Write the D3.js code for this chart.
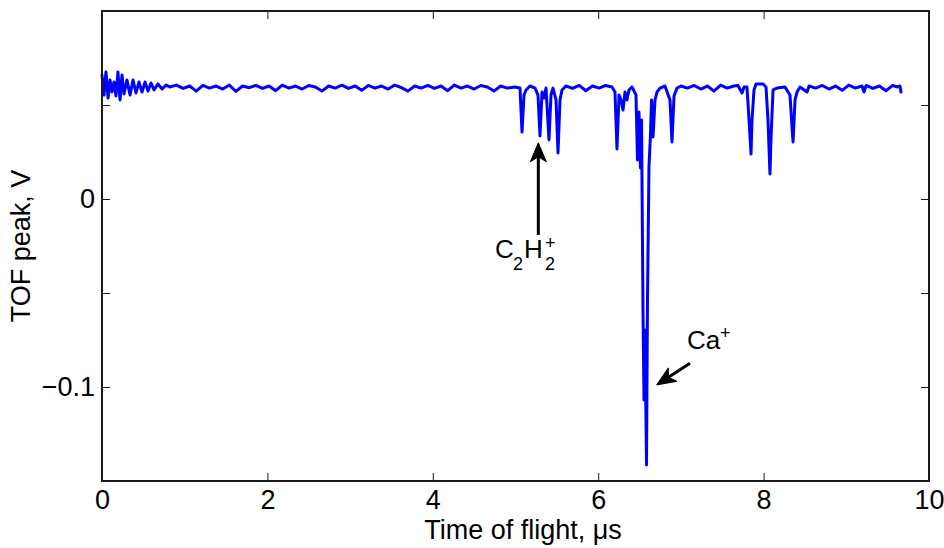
<!DOCTYPE html>
<html>
<head>
<meta charset="utf-8">
<script src="https://cdn.jsdelivr.net/npm/d3@7"></script>
<style>
  html, body { margin: 0; padding: 0; background: #fff; }
  svg { display: block; font-family: "Liberation Sans", Arial, Helvetica, sans-serif; }
</style>
</head>
<body>
<svg id="chart" width="944" height="548"></svg>
<script>
// Time-of-flight trace: time (µs) and detector signal (V)
const tofTime = [
  // ringing at the start
  0.000, 0.024, 0.048, 0.073, 0.097, 0.121, 0.145, 0.169, 0.193, 0.218,
  0.242, 0.266, 0.302, 0.339, 0.375, 0.411, 0.447, 0.484, 0.520, 0.556,
  0.593, 0.629, 0.677, 0.726, 0.774,
  // quiet baseline
  0.82, 0.90, 0.98, 1.06, 1.14, 1.22, 1.30, 1.38, 1.46, 1.54,
  1.62, 1.70, 1.78, 1.86, 1.94, 2.02, 2.10, 2.18, 2.26, 2.34,
  2.42, 2.50, 2.58, 2.66, 2.74, 2.82, 2.90, 2.98, 3.06, 3.14,
  3.22, 3.30, 3.38, 3.46, 3.54, 3.62, 3.70, 3.78, 3.86, 3.94,
  4.02, 4.10, 4.18, 4.26, 4.34, 4.42, 4.50, 4.58, 4.66, 4.74,
  4.82, 4.90, 4.99,
  // first group of peaks
  5.054, 5.079, 5.103, 5.127, 5.175, 5.236, 5.272, 5.296, 5.321, 5.345,
  5.369, 5.405, 5.429, 5.453, 5.490, 5.514, 5.538, 5.562,
  5.61, 5.69, 5.77, 5.85, 5.93, 6.01, 6.09,
  // Ca region
  6.167, 6.203, 6.227, 6.252, 6.276, 6.300, 6.324, 6.348, 6.372, 6.409,
  6.457, 6.475, 6.493, 6.511, 6.524, 6.542, 6.554, 6.566, 6.584, 6.596,
  6.614, 6.632, 6.645, 6.663, 6.687, 6.711, 6.747, 6.808, 6.868, 6.892,
  6.917, 6.953, 7.001,
  7.08, 7.16, 7.24, 7.32, 7.40, 7.48, 7.56, 7.64, 7.69,
  // late peaks
  7.739, 7.763, 7.799, 7.824, 7.848, 7.860, 7.884, 7.908, 7.993, 8.029,
  8.053, 8.077, 8.089, 8.114, 8.162, 8.259, 8.319, 8.356, 8.380, 8.404,
  8.440,
  8.525, 8.55, 8.63, 8.71, 8.79, 8.87, 8.95, 9.03, 9.11, 9.19,
  9.214, 9.24, 9.32, 9.40, 9.48, 9.56, 9.62, 9.649, 9.661
];
const tofSignal = [
  0.0660, 0.0553, 0.0676, 0.0537, 0.0633, 0.0569, 0.0622, 0.0548, 0.0676, 0.0527,
  0.0660, 0.0559, 0.0633, 0.0553, 0.0633, 0.0564, 0.0622, 0.0569, 0.0622, 0.0574,
  0.0617, 0.0580, 0.0612, 0.0585, 0.0606,
  0.0596, 0.0606, 0.0588, 0.0601, 0.0574, 0.0604, 0.0590, 0.0601, 0.0585, 0.0606,
  0.0572, 0.0601, 0.0592, 0.0604, 0.0588, 0.0601, 0.0576, 0.0606, 0.0590, 0.0601,
  0.0585, 0.0604, 0.0596, 0.0574, 0.0601, 0.0590, 0.0606, 0.0588, 0.0601, 0.0578,
  0.0604, 0.0590, 0.0601, 0.0585, 0.0606, 0.0592, 0.0574, 0.0601, 0.0590, 0.0604,
  0.0588, 0.0601, 0.0576, 0.0606, 0.0590, 0.0601, 0.0585, 0.0604, 0.0596, 0.0574,
  0.0601, 0.0590, 0.0596,
  0.0590, 0.0356, 0.0553, 0.0580, 0.0601, 0.0590, 0.0553, 0.0335, 0.0569, 0.0537,
  0.0590, 0.0314, 0.0553, 0.0590, 0.0527, 0.0245, 0.0527, 0.0580,
  0.0601, 0.0588, 0.0604, 0.0576, 0.0601, 0.0590, 0.0604,
  0.0596, 0.0569, 0.0266, 0.0553, 0.0527, 0.0473, 0.0569, 0.0527, 0.0580, 0.0596,
  0.0553, 0.0207, 0.0463, 0.0165, 0.0420, -0.0606, -0.1069, -0.0697, -0.1415, -0.0537,
  0.0170, 0.0340, 0.0527, 0.0330, 0.0527, 0.0569, 0.0590, 0.0601, 0.0527, 0.0303,
  0.0548, 0.0590, 0.0601,
  0.0590, 0.0604, 0.0585, 0.0601, 0.0574, 0.0606, 0.0590, 0.0601, 0.0604,
  0.0564, 0.0596, 0.0596, 0.0420, 0.0239, 0.0420, 0.0580, 0.0612, 0.0612, 0.0596,
  0.0420, 0.0133, 0.0314, 0.0580, 0.0590, 0.0596, 0.0553, 0.0303, 0.0527, 0.0569,
  0.0596,
  0.0569, 0.0601, 0.0590, 0.0604, 0.0585, 0.0601, 0.0578, 0.0606, 0.0590, 0.0601,
  0.0569, 0.0604, 0.0588, 0.0601, 0.0576, 0.0604, 0.0596, 0.0601, 0.0569
];

// Axis setup
const xDomain = [0, 10];
const yDomain = [-0.15, 0.1];
const xTicks = [0, 2, 4, 6, 8, 10];
const yTicks = [-0.15, -0.1, -0.05, 0, 0.05, 0.1];
const yTickLabels = { "0": "0", "-0.1": "\u22120.1" };

// Peak annotations: arrow tail/tip and label anchor, in data units
const peakNotes = [
  { name: "C2H2", tail: [5.276, -0.0191], tip: [5.276, 0.0299], label: [4.752, -0.0314] },
  { name: "Ca",   tail: [7.110, -0.0874], tip: [6.707, -0.0989], label: [7.074, -0.0798] }
];

const svg = d3.select("#chart");
const margin = { left: 102, right: 15, top: 11, bottom: 67 };
const W = 944, H = 548;
const x = d3.scaleLinear().domain(xDomain).range([margin.left, W - margin.right]);
const y = d3.scaleLinear().domain(yDomain).range([H - margin.bottom, margin.top]);

const fontSize = 27;
const noteSize = 26;
const tickLen = 8;

// Trace
const points = tofTime.map((t, i) => [t, tofSignal[i]]);
const line = d3.line().x(d => x(d[0])).y(d => y(d[1]));
svg.append("path")
  .datum(points)
  .attr("d", line)
  .attr("fill", "none")
  .attr("stroke", "#0000ff")
  .attr("stroke-width", 3)
  .attr("stroke-linejoin", "round")
  .attr("stroke-linecap", "round");

// Axes: inward ticks on all four sides
const axisColor = "#1a1a1a";
const bottomAxis = d3.axisBottom(x).tickValues(xTicks).tickSizeInner(-tickLen).tickSizeOuter(0).tickPadding(9).tickFormat(d3.format("d"));
const topAxis = d3.axisTop(x).tickValues(xTicks).tickSizeInner(-tickLen).tickSizeOuter(0).tickFormat("");
const leftAxis = d3.axisLeft(y).tickValues(yTicks).tickSizeInner(-tickLen).tickSizeOuter(0).tickPadding(7)
  .tickFormat(d => yTickLabels[String(Math.round(d * 100) / 100)] || "");
const rightAxis = d3.axisRight(y).tickValues(yTicks).tickSizeInner(-tickLen).tickSizeOuter(0).tickFormat("");

function styleAxis(g) {
  g.select(".domain").remove();
  g.selectAll(".tick line").attr("stroke", axisColor).attr("stroke-width", 1);
  g.selectAll(".tick text").attr("fill", "#000").style("font-size", fontSize + "px")
    .style("font-family", '"Liberation Sans", Arial, Helvetica, sans-serif');
}

svg.append("g").attr("transform", `translate(0,${y.range()[0]})`).call(bottomAxis).call(styleAxis);
svg.append("g").attr("transform", `translate(0,${y.range()[1]})`).call(topAxis).call(styleAxis);
svg.append("g").attr("transform", `translate(${x.range()[0]},0)`).call(leftAxis).call(styleAxis);
svg.append("g").attr("transform", `translate(${x.range()[1]},0)`).call(rightAxis).call(styleAxis);

// Frame
svg.append("rect")
  .attr("x", x.range()[0]).attr("y", y.range()[1])
  .attr("width", x.range()[1] - x.range()[0])
  .attr("height", y.range()[0] - y.range()[1])
  .attr("fill", "none").attr("stroke", axisColor).attr("stroke-width", 2);

// Axis titles
svg.append("text")
  .attr("x", 523)
  .attr("y", 539)
  .attr("text-anchor", "middle")
  .style("font-size", fontSize + "px")
  .text("Time of flight, \u03bcs");

svg.append("text")
  .attr("transform", `translate(30,${(y.range()[0] + y.range()[1]) / 2}) rotate(-90)`)
  .attr("text-anchor", "middle")
  .style("font-size", fontSize + "px")
  .text("TOF peak, V");

// Arrow with a notched filled head
function drawArrow(tail, tip) {
  const x0 = x(tail[0]), y0 = y(tail[1]), x1 = x(tip[0]), y1 = y(tip[1]);
  const ang = Math.atan2(y1 - y0, x1 - x0);
  const headLen = 19, headHalf = 8, notch = 5;
  const ux = Math.cos(ang), uy = Math.sin(ang);
  const px = -uy, py = ux;
  const bx = x1 - ux * headLen, by = y1 - uy * headLen;
  const nx = x1 - ux * (headLen - notch), ny = y1 - uy * (headLen - notch);
  svg.append("line")
    .attr("x1", x0).attr("y1", y0).attr("x2", nx).attr("y2", ny)
    .attr("stroke", "#000").attr("stroke-width", 3);
  svg.append("path")
    .attr("d", `M${x1},${y1} L${bx + px * headHalf},${by + py * headHalf} L${nx},${ny} L${bx - px * headHalf},${by - py * headHalf} Z`)
    .attr("fill", "#000").attr("stroke", "#000").attr("stroke-width", 1).attr("stroke-linejoin", "miter");
}

peakNotes.forEach(n => drawArrow(n.tail, n.tip));

// Ion labels with sub/superscripts
function labelPieces(anchor, pieces) {
  const ax = x(anchor[0]), ay = y(anchor[1]);
  const g = svg.append("g").attr("transform", `translate(${ax},${ay})`);
  pieces.forEach(p => {
    g.append("text")
      .attr("x", p.dx).attr("y", p.dy)
      .style("font-size", p.size + "px")
      .text(p.text);
  });
}

labelPieces(peakNotes[0].label, [
  { text: "C", dx: 0, dy: 0, size: noteSize },
  { text: "2", dx: 18, dy: 12, size: 18 },
  { text: "H", dx: 29, dy: 0, size: noteSize },
  { text: "2", dx: 50, dy: 12, size: 18 },
  { text: "+", dx: 50, dy: -9, size: 18 }
]);

labelPieces(peakNotes[1].label, [
  { text: "Ca", dx: 0, dy: 0, size: noteSize },
  { text: "+", dx: 33, dy: -10, size: 18 }
]);
</script>
</body>
</html>
